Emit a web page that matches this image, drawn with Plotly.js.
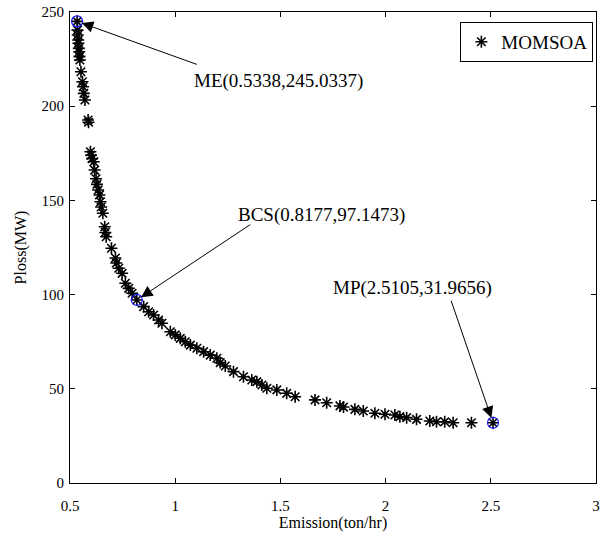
<!DOCTYPE html>
<html>
<head>
<meta charset="utf-8">
<script src="https://cdn.plot.ly/plotly-3.0.1.min.js"></script>
<style>html,body{margin:0;padding:0;background:#fff;}#chart{width:608px;height:539px;}</style>
</head>
<body>
<div id="chart"></div>
<script>
// Pareto front (MOMSOA)
var emission = [0.5338, 0.5356, 0.537, 0.539, 0.540, 0.542, 0.544, 0.545, 0.547, 0.552, 0.559, 0.562, 0.566, 0.571, 0.586, 0.588,
  0.597, 0.600, 0.605, 0.613, 0.617, 0.624, 0.628, 0.634, 0.640, 0.645, 0.648, 0.656, 0.665, 0.668, 0.672, 0.697, 0.716, 0.720,
  0.7315, 0.7476, 0.763, 0.779, 0.795, 0.8177, 0.850, 0.874, 0.8975, 0.921, 0.937, 0.977, 1.0005, 1.024, 1.048, 1.072, 1.103,
  1.135, 1.1665, 1.198, 1.214, 1.238, 1.277, 1.3245, 1.364, 1.388, 1.412, 1.4355, 1.483, 1.530, 1.570, 1.6646, 1.720, 1.783,
  1.800, 1.854, 1.894, 1.949, 1.997, 2.044, 2.068, 2.100, 2.147, 2.210, 2.242, 2.281, 2.321, 2.408, 2.5105];
var ploss = [245.0337, 240.4, 237.8, 235.1, 233.4, 230.7, 228.9, 226.3, 224.5, 218.3, 213.0, 210.3, 206.8, 203.3, 192.7, 191.5,
  175.8, 174.0, 172.2, 170.5, 166.1, 161.5, 158.5, 155.5, 152.9, 149.3, 146.5, 143.2, 136.0, 133.0, 130.7, 124.6, 119.4, 116.8,
  114.0, 111.3, 106.0, 103.3, 100.7, 97.1473, 93.6, 90.9, 89.2, 86.5, 84.8, 80.3, 78.6, 76.8, 75.0, 73.2, 71.5,
  69.7, 67.9, 66.2, 63.9, 62.1, 59.1, 56.4, 54.7, 53.8, 52.0, 50.3, 49.4, 47.6, 45.8, 44.1, 42.6, 40.9,
  40.3, 39.1, 38.2, 37.0, 36.5, 36.1, 35.2, 34.7, 33.8, 32.9, 32.5, 32.5, 32.0, 32.0, 31.9656];

// Highlighted solutions
var keyNames = ["ME", "BCS", "MP"];
var keyEmission = [0.5338, 0.8177, 2.5105];
var keyPloss = [245.0337, 97.1473, 31.9656];
var keyLabels = ["ME(0.5338,245.0337)", "BCS(0.8177,97.1473)", "MP(2.5105,31.9656)"];
// label centres and arrow tails (data units)
var labelX = [1.491, 1.693, 2.1295];
var labelY = [213.3, 142.2, 103.5];
var tailX = [1.110, 1.364, 2.3092];
var tailY = [221.9, 137.7, 97.5];

var xTicks = [0.5, 1, 1.5, 2, 2.5, 3];
var xTickText = ["0.5", "1", "1.5", "2", "2.5", "3"];
var yTicks = [0, 50, 100, 150, 200, 250];

var FONT = "'Times New Roman', 'Liberation Serif', serif";

var traces = [
  {
    x: emission, y: ploss, type: "scatter", mode: "markers", name: "MOMSOA",
    marker: {symbol: "asterisk-open", size: 10, color: "#000", line: {color: "#000", width: 1.6}}
  },
  {
    x: keyEmission, y: keyPloss, type: "scatter", mode: "markers", showlegend: false,
    marker: {symbol: "circle-open", size: 11, color: "#1a1aff", line: {color: "#1a1aff", width: 1.2}}
  }
];

var annotations = [];
for (var i = 0; i < keyNames.length; i++) {
  annotations.push({
    x: keyEmission[i], y: keyPloss[i], xref: "x", yref: "y",
    ax: tailX[i], ay: tailY[i], axref: "x", ayref: "y",
    text: "", showarrow: true, arrowhead: 2, arrowsize: 2.3, arrowwidth: 1,
    arrowcolor: "#000", standoff: 5
  });
  annotations.push({
    x: labelX[i], y: labelY[i], xref: "x", yref: "y",
    text: keyLabels[i], showarrow: false,
    font: {family: FONT, size: 19, color: "#000"}
  });
}

var layout = {
  width: 608, height: 539,
  margin: {l: 69.5, r: 11.5, t: 12, b: 56},
  paper_bgcolor: "#fff", plot_bgcolor: "#fff",
  font: {family: FONT, size: 15, color: "#000"},
  showlegend: true,
  legend: {
    x: 0.995, y: 0.979, xanchor: "right", yanchor: "top",
    bordercolor: "#000", borderwidth: 1, bgcolor: "#fff",
    font: {family: FONT, size: 19, color: "#000"}
  },
  xaxis: {
    range: [0.5, 3], tickvals: xTicks, ticktext: xTickText,
    ticks: "inside", ticklen: 5, tickcolor: "#000", tickwidth: 1,
    showline: true, linecolor: "#000", linewidth: 1, mirror: "ticks",
    showgrid: false, zeroline: false, ticklabelstandoff: 9,
    tickfont: {family: FONT, size: 15},
    title: {text: "Emission(ton/hr)", font: {family: FONT, size: 16}, standoff: 1}
  },
  yaxis: {
    range: [0, 250], tickvals: yTicks,
    ticks: "inside", ticklen: 5, tickcolor: "#000", tickwidth: 1,
    showline: true, linecolor: "#000", linewidth: 1, mirror: "ticks",
    showgrid: false, zeroline: false, ticklabelstandoff: 2,
    tickfont: {family: FONT, size: 15},
    title: {text: "Ploss(MW)", font: {family: FONT, size: 16}, standoff: 10}
  },
  annotations: annotations
};

Plotly.newPlot("chart", traces, layout, {displayModeBar: false, staticPlot: true});
</script>
</body>
</html>
